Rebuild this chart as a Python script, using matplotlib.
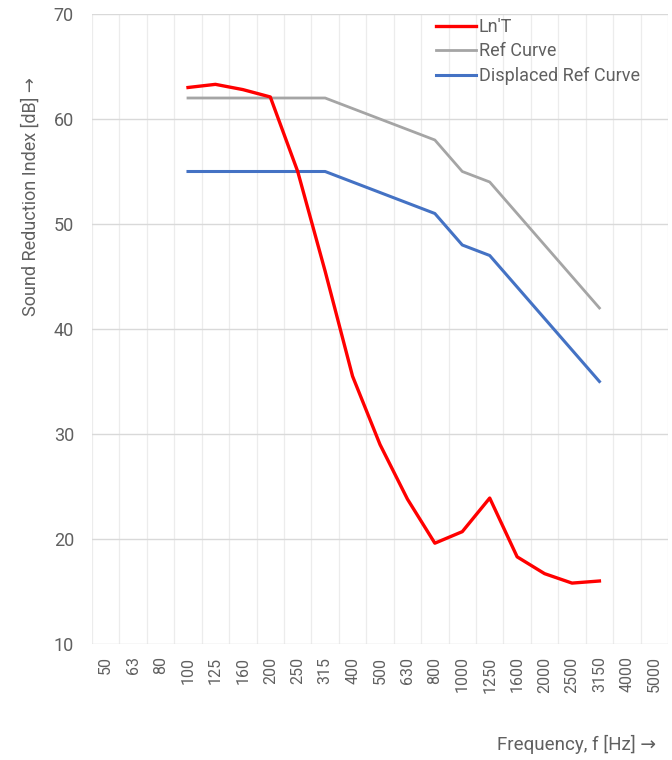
import numpy as np
import matplotlib
matplotlib.use("Agg")
import matplotlib.pyplot as plt

freqs = ["50", "63", "80", "100", "125", "160", "200", "250", "315", "400", "500",
         "630", "800", "1000", "1250", "1600", "2000", "2500", "3150", "4000", "5000"]
data_freqs = ["100", "125", "160", "200", "250", "315", "400", "500", "630", "800",
              "1000", "1250", "1600", "2000", "2500", "3150"]
lnt = [63.0, 63.3, 62.8, 62.1, 55.0, 45.5, 35.5, 29.0, 23.8, 19.6, 20.7, 23.9, 18.3, 16.7, 15.8, 16.0]
ref_curve = [62, 62, 62, 62, 62, 62, 61, 60, 59, 58, 55, 54, 51, 48, 45, 42]
displaced = [55, 55, 55, 55, 55, 55, 54, 53, 52, 51, 48, 47, 44, 41, 38, 35]
yticks = [10, 20, 30, 40, 50, 60, 70]

plt.rcParams['font.family'] = ['Roboto', 'DejaVu Sans']
txt = '#606060'

fig = plt.figure(figsize=(6.72, 7.6), dpi=100)
W, H = 672, 760
ax = fig.add_axes([92 / W, 1 - 644 / H, (668 - 92) / W, (644 - 14) / H])

xpos = [freqs.index(f) for f in data_freqs]
ax.plot(xpos, lnt, color='#ff0000', lw=2.4, label="Ln'T", zorder=5)
ax.plot(xpos, ref_curve, color='#a5a5a5', lw=2.0, label='Ref Curve', zorder=4)
ax.plot(xpos, displaced, color='#4472c4', lw=2.2, label='Displaced Ref Curve', zorder=4)

ax.set_xlim(-0.5, len(freqs) - 0.5)
ax.set_ylim(10, 70)
ax.set_xticks(range(len(freqs)))
ax.set_xticklabels(freqs, rotation=90, fontsize=11.5, color=txt)
ax.set_xticks(np.arange(-0.5, len(freqs), 0.5), minor=True)
ax.set_yticks(yticks)
ax.set_yticklabels([str(v) for v in yticks], fontsize=13, color=txt)
ax.tick_params(axis='both', which='both', length=0)
ax.tick_params(axis='y', pad=13)
ax.tick_params(axis='x', pad=9)
ax.grid(axis='y', which='major', color='#d9d9d9', lw=1.0)
ax.grid(axis='x', which='minor', color='#ececec', lw=0.9)
ax.grid(axis='x', which='major', visible=False)
for s in ax.spines.values():
    s.set_visible(False)
ax.set_axisbelow(True)

leg = ax.legend(loc='upper left', bbox_to_anchor=(436 / W, 1 - 18 / H),
                bbox_transform=fig.transFigure, frameon=False, fontsize=13,
                handlelength=2.2, handletextpad=0.17, labelspacing=0.36, borderpad=0,
                borderaxespad=0)
for t in leg.get_texts():
    t.set_color(txt)

fig.text(31 / W, 1 - 196 / H, 'Sound Reduction Index [dB] →', rotation=90,
         ha='center', va='center', fontsize=13, color=txt)
fig.text(656 / W, 1 - 744 / H, 'Frequency, f [Hz] →', ha='right', va='center',
         fontsize=13.5, color=txt)

fig.savefig('out.png', dpi=100)
